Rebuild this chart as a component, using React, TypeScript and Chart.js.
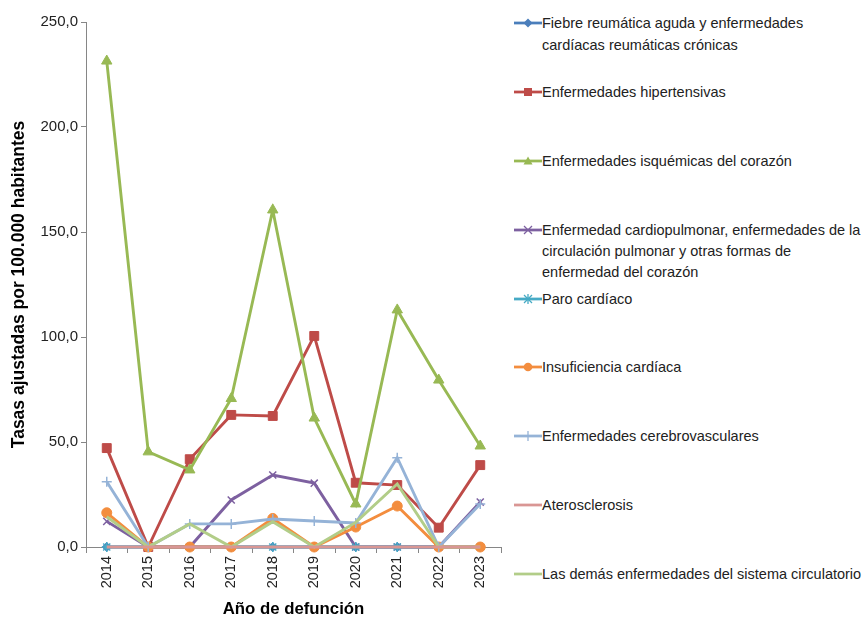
import React, { useEffect, useRef } from 'react';
import { Chart, registerables } from 'chart.js';

Chart.register(...registerables);

// ---------- DATA ----------
const years = ['2014', '2015', '2016', '2017', '2018', '2019', '2020', '2021', '2022', '2023'];

const fiebreReumatica = [0, 0, 0, 0, 0, 0, 0, 0, 0, 0];
const hipertensivas = [47.1, 0, 41.8, 62.9, 62.4, 100.5, 30.6, 29.5, 9.2, 39.0];
const isquemicas = [231.4, 45.3, 36.7, 70.7, 160.5, 61.4, 20.5, 112.9, 79.5, 48.1];
const cardiopulmonar = [12.2, 0, 0, 22.4, 34.3, 30.4, 0, 0, 0, 21.4];
const paroCardiaco = [0, 0, 0, 0, 0, 0, 0, 0, 0, 0];
const insuficiencia = [16.3, 0, 0, 0, 13.6, 0, 9.5, 19.5, 0, 0];
const cerebrovasculares = [31.1, 0, 11.0, 11.0, 13.3, 12.4, 11.4, 42.5, 0, 20.5];
const aterosclerosis = [0, 0, 0, 0, 0, 0, 0, 0, 0, 0];
const lasDemas = [14.4, 0, 11.0, 0, 12.0, 0, 11.7, 30.0, 0, 0];

const yTicks = [0, 50, 100, 150, 200, 250];

const seriesLabels: string[][] = [
  ['Fiebre reumática aguda y enfermedades', 'cardíacas reumáticas crónicas'],
  ['Enfermedades hipertensivas'],
  ['Enfermedades isquémicas del corazón'],
  ['Enfermedad cardiopulmonar, enfermedades de la', 'circulación pulmonar y otras formas de', 'enfermedad del corazón'],
  ['Paro cardíaco'],
  ['Insuficiencia cardíaca'],
  ['Enfermedades cerebrovasculares'],
  ['Aterosclerosis'],
  ['Las demás enfermedades del sistema circulatorio'],
];

const seriesValues = [
  fiebreReumatica, hipertensivas, isquemicas, cardiopulmonar, paroCardiaco,
  insuficiencia, cerebrovasculares, aterosclerosis, lasDemas,
];

// ---------- STYLES ----------
const seriesColors = ['#4A7EBB', '#BE4B48', '#98B954', '#7D60A0', '#46AAC5', '#F38D3E', '#95B3D7', '#D99694', '#B2CD88'];
const seriesMarkers: (string | false)[] = ['rectRot', 'rect', 'triangle', 'crossRot', 'star', 'circle', 'cross', false, false];
const markerRadius = [4.5, 6.3, 6, 5, 5, 5, 5, 0, 0];
const drawOrder = [9, 8, 7, 6, 5, 4, 3, 0, 2];

const FONT = '"Liberation Sans", Arial, Helvetica, sans-serif';

function LegendMarker({ type, color }: { type: string | false; color: string }) {
  const cx = 15, cy = 7;
  let shape: React.ReactNode = null;
  if (type === 'rectRot') shape = <polygon points={`${cx},${cy - 4.5} ${cx + 4.5},${cy} ${cx},${cy + 4.5} ${cx - 4.5},${cy}`} fill={color} />;
  if (type === 'rect') shape = <rect x={cx - 4} y={cy - 4} width={8} height={8} fill={color} />;
  if (type === 'triangle') shape = <polygon points={`${cx},${cy - 4.5} ${cx + 4.5},${cy + 3.5} ${cx - 4.5},${cy + 3.5}`} fill={color} />;
  if (type === 'crossRot') shape = <g stroke={color} strokeWidth={1.3}><line x1={cx - 4} y1={cy - 4} x2={cx + 4} y2={cy + 4} /><line x1={cx - 4} y1={cy + 4} x2={cx + 4} y2={cy - 4} /></g>;
  if (type === 'star') shape = <g stroke={color} strokeWidth={1.3}><line x1={cx - 4} y1={cy - 4} x2={cx + 4} y2={cy + 4} /><line x1={cx - 4} y1={cy + 4} x2={cx + 4} y2={cy - 4} /><line x1={cx} y1={cy - 5} x2={cx} y2={cy + 5} /></g>;
  if (type === 'circle') shape = <circle cx={cx} cy={cy} r={4.3} fill={color} />;
  if (type === 'cross') shape = <g stroke={color} strokeWidth={1.3}><line x1={cx} y1={cy - 5} x2={cx} y2={cy + 5} /></g>;
  return (
    <svg width={30} height={14} style={{ position: 'absolute', left: 0, top: 3 }}>
      <line x1={1} y1={cy} x2={29} y2={cy} stroke={color} strokeWidth={2.75} />
      {shape}
    </svg>
  );
}

export default function App() {
  const canvasRef = useRef<HTMLCanvasElement>(null);

  useEffect(() => {
    const canvas = canvasRef.current;
    if (!canvas) return;
    const chart = new Chart(canvas, {
      type: 'line',
      data: {
        labels: years,
        datasets: seriesValues.map((vals, i) => ({
          label: seriesLabels[i].join(' '),
          data: vals,
          borderColor: seriesColors[i],
          backgroundColor: seriesColors[i],
          borderWidth: 2.9,
          pointStyle: seriesMarkers[i] as any,
          pointRadius: markerRadius[i],
          pointBorderWidth: seriesMarkers[i] === 'crossRot' || seriesMarkers[i] === 'star' || seriesMarkers[i] === 'cross' ? 1.5 : 1,
          pointBackgroundColor: seriesColors[i],
          pointBorderColor: seriesColors[i],
          tension: 0,
          order: drawOrder[i],
          clip: false as any,
        })),
      },
      options: {
        responsive: false,
        animation: false,
        devicePixelRatio: 1,
        layout: { padding: { left: 0, right: 9, top: 22, bottom: 0 } },
        plugins: {
          legend: { display: false },
          tooltip: { enabled: false },
        },
        scales: {
          x: {
            type: 'category',
            offset: true,
            grid: {
              display: true,
              drawOnChartArea: false,
              drawTicks: true,
              tickLength: 6,
              offset: true,
              color: '#868686',
            },
            border: { display: true, color: '#868686', width: 1 },
            ticks: {
              minRotation: 90,
              maxRotation: 90,
              padding: 3,
              color: '#222',
              font: { family: FONT, size: 14.5 },
            },
            title: {
              display: true,
              text: 'Año de defunción',
              color: '#000',
              font: { family: FONT, size: 16.8, weight: 'bold' },
              padding: { top: 0, bottom: 1 },
            },
            afterFit: (scale: any) => { scale.height = 73; },
          },
          y: {
            type: 'linear',
            min: 0,
            max: 250,
            afterBuildTicks: (scale: any) => { scale.ticks = yTicks.map((v) => ({ value: v })); },
            grid: {
              display: true,
              drawOnChartArea: false,
              drawTicks: true,
              tickLength: 5,
              color: '#868686',
            },
            border: { display: true, color: '#868686', width: 1 },
            ticks: {
              padding: 3,
              color: '#222',
              font: { family: FONT, size: 15 },
              callback: (v: any) => Number(v).toFixed(1).replace('.', ','),
            },
            title: {
              display: true,
              text: 'Tasas ajustadas por 100.000 habitantes',
              color: '#000',
              font: { family: FONT, size: 17.5, weight: 'bold' },
              padding: { top: 9, bottom: 0 },
            },
            afterFit: (scale: any) => { scale.width = 86; },
          },
        },
      },
    });
    return () => chart.destroy();
  }, []);

  const legendTop = 24;
  const legendStep = 68.8;
  const lineH = 21.3;

  return (
    <div style={{ position: 'fixed', left: 0, top: 0, width: 865, height: 620, background: '#fff', fontFamily: FONT }}>
      <canvas ref={canvasRef} width={510} height={620} style={{ position: 'absolute', left: 0, top: 0, width: 510, height: 620 }} />
      {seriesLabels.map((lines, i) => (
        <div
          key={i}
          style={{
            position: 'absolute',
            left: 513,
            top: legendTop + i * legendStep - lineH / 2,
            width: 352,
            height: lineH * lines.length,
          }}
        >
          <LegendMarker type={seriesMarkers[i]} color={seriesColors[i]} />
          <div style={{ position: 'absolute', left: 29, top: 0, fontSize: 14.5, lineHeight: `${lineH}px`, color: '#222', whiteSpace: 'nowrap' }}>
            {lines.map((t, j) => (
              <div key={j}>{t}</div>
            ))}
          </div>
        </div>
      ))}
    </div>
  );
}
